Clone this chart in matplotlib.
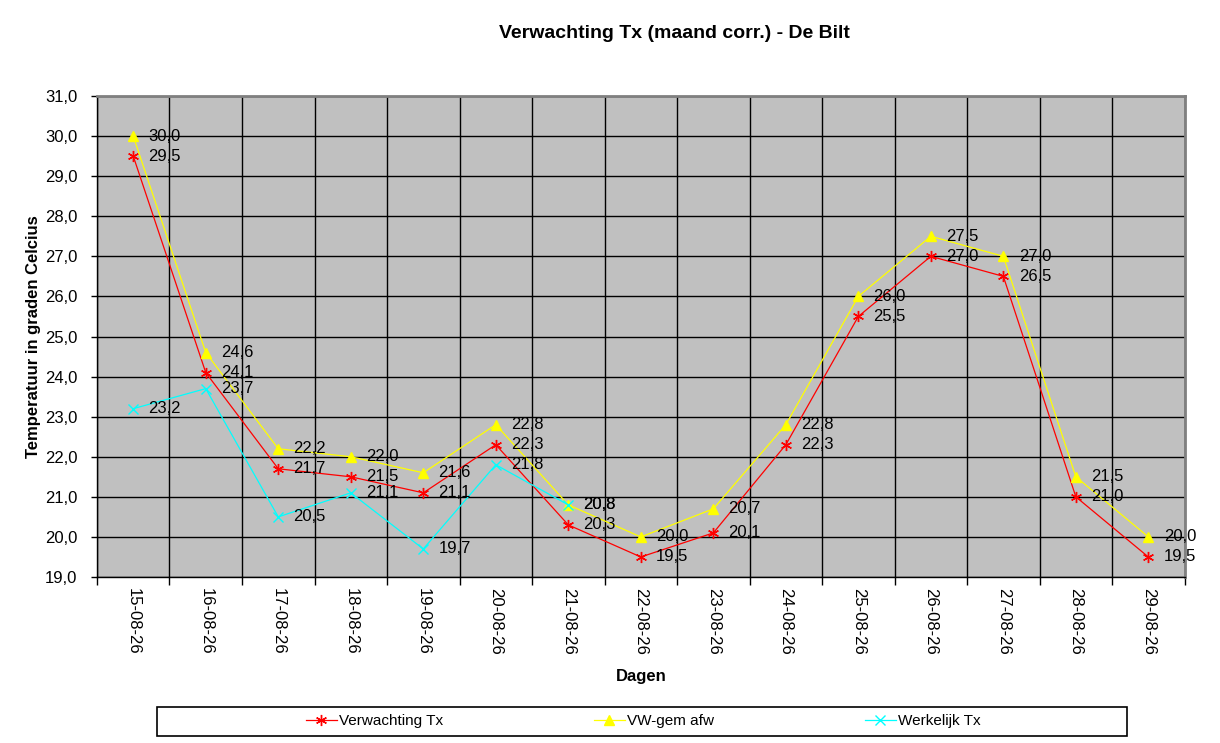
import matplotlib
matplotlib.use('Agg')

import matplotlib.pyplot as plt
from matplotlib.lines import Line2D
from matplotlib.patches import Rectangle
from matplotlib.ticker import FuncFormatter, MultipleLocator
import numpy as np

plt.rcParams['font.family'] = ['Liberation Sans', 'DejaVu Sans']

# data
dagen = ['15-08-26', '16-08-26', '17-08-26', '18-08-26', '19-08-26',
         '20-08-26', '21-08-26', '22-08-26', '23-08-26', '24-08-26',
         '25-08-26', '26-08-26', '27-08-26', '28-08-26', '29-08-26']
verwachting_tx = [29.5, 24.1, 21.7, 21.5, 21.1, 22.3, 20.3, 19.5, 20.1,
                  22.3, 25.5, 27.0, 26.5, 21.0, 19.5]
vw_gem_afw = [30.0, 24.6, 22.2, 22.0, 21.6, 22.8, 20.8, 20.0, 20.7,
              22.8, 26.0, 27.5, 27.0, 21.5, 20.0]
werkelijk_tx = [23.2, 23.7, 20.5, 21.1, 19.7, 21.8, 20.8]


def komma(v):
    return f'{v:.1f}'.replace('.', ',')


fig = plt.figure(figsize=(12.2, 7.43), dpi=100)
ax = fig.add_axes([0.0795, 0.2234, 0.8915, 0.6474])
ax.set_facecolor('#C0C0C0')

x = np.arange(len(dagen))

series = [
    ('Verwachting Tx', verwachting_tx, '#FF0000', (6, 2, 0), 8),
    ('VW-gem afw', vw_gem_afw, '#FFFF00', '^', 7),
    ('Werkelijk Tx', werkelijk_tx, '#00FFFF', 'x', 7),
]

handles = []
for naam, vals, kleur, marker, ms in series:
    xs = x[:len(vals)]
    h, = ax.plot(xs, vals, color=kleur, lw=0.9, marker=marker, ms=ms,
                 mec=kleur, mfc=kleur, mew=1.0, label=naam, zorder=3)
    handles.append(h)
    for xi, v in zip(xs, vals):
        ax.annotate(komma(v), (xi, v), xytext=(11, 0), textcoords='offset points',
                    ha='left', va='center', fontsize=12, color='black', zorder=4)

ax.set_xlim(-0.5, len(dagen) - 0.5)
ax.set_ylim(19, 31)
ax.yaxis.set_major_locator(MultipleLocator(1))
ax.yaxis.set_major_formatter(FuncFormatter(lambda v, p: komma(v)))

# category labels in the middle, ticks and grid on the boundaries
ax.set_xticks(x)
ax.set_xticklabels(dagen, rotation=270, fontsize=12)
ax.set_xticks(np.arange(len(dagen) + 1) - 0.5, minor=True)
ax.tick_params(axis='x', which='major', length=0, pad=8)
ax.tick_params(axis='x', which='minor', length=6, width=1, direction='out')
ax.tick_params(axis='y', length=4, width=1, direction='out', labelsize=12, pad=10)

ax.grid(True, axis='y', which='major', color='black', lw=1)
ax.grid(True, axis='x', which='minor', color='black', lw=1)
ax.set_axisbelow(True)

for s in ['left', 'bottom']:
    ax.spines[s].set_color('black')
    ax.spines[s].set_linewidth(1)
for s in ['top', 'right']:
    ax.spines[s].set_color('#808080')
    ax.spines[s].set_linewidth(2)

ax.set_ylabel('Temperatuur in graden Celcius', fontsize=12, fontweight='bold', labelpad=3)
ax.set_xlabel('Dagen', fontsize=12, fontweight='bold', labelpad=10)

fig.text(0.553, 0.955, 'Verwachting Tx (maand corr.) - De Bilt',
         ha='center', va='center', fontsize=14, fontweight='bold')

# legend box with three entries spread out like the original
fig.patches.append(Rectangle((0.1287, 0.0094), 0.7951, 0.0390, transform=fig.transFigure,
                             fill=False, edgecolor='black', lw=1.2))
posities = [0.2508, 0.4869, 0.709]
for h, px in zip(handles, posities):
    proxy = Line2D([], [], color=h.get_color(), marker=h.get_marker(), ms=h.get_markersize(),
                   mec=h.get_color(), mfc=h.get_color(), lw=0.9)
    fig.legend([proxy], [h.get_label()], loc='center left', bbox_to_anchor=(px, 0.029),
               frameon=False, fontsize=11, handlelength=2.0, handletextpad=0.15,
               borderpad=0, borderaxespad=0)

fig.savefig('out.png', dpi=100)
plt.close(fig)
